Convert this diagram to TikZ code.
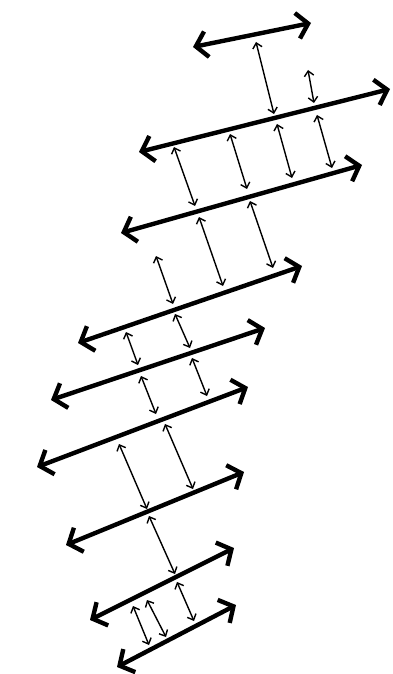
\documentclass[tikz,border=0pt]{standalone}
\usetikzlibrary{arrows.meta}
\begin{document}
\begin{tikzpicture}[x=1pt,y=-1pt,
  strand/.style={line width=4.4pt,{Straight Barb[length=11pt,width=26pt]}-{Straight Barb[length=11pt,width=26pt]}},
  link/.style={line width=1.4pt,{Straight Barb[length=5pt,width=9.5pt]}-{Straight Barb[length=5pt,width=9.5pt]}}]
\useasboundingbox (0,0) rectangle (392,674);
% thick strands
\coordinate (s1a) at (193,47);  \coordinate (s1b) at (311,23);
\coordinate (s2a) at (139,152); \coordinate (s2b) at (390,89);
\coordinate (s3a) at (121,233); \coordinate (s3b) at (362,165);
\coordinate (s4a) at (78,343);  \coordinate (s4b) at (302,266);
\coordinate (s5a) at (51,400);  \coordinate (s5b) at (265,328);
\coordinate (s6a) at (37,467);  \coordinate (s6b) at (248,387);
\coordinate (s7a) at (66,545);  \coordinate (s7b) at (244,472);
\coordinate (s8a) at (90,620);  \coordinate (s8b) at (234,548);
\coordinate (s9a) at (117,667); \coordinate (s9b) at (236,605);
\foreach \i in {1,...,9} {\draw[strand] (s\i a) -- (s\i b);}
% links 1-2
\draw[link] (256,42) -- (274,114);
\draw[link] (308,70) -- (314,103);
% links 2-3
\draw[link] (174,147) -- (195,206);
\draw[link] (230,134) -- (247,189);
\draw[link] (277,124) -- (292,178);
\draw[link] (317,115) -- (332,168);
% links 3-4
\draw[link] (156,256) -- (173,304);
\draw[link] (199,217) -- (223,286);
\draw[link] (250,201) -- (273,268);
% links 4-5
\draw[link] (126,332) -- (138,365);
\draw[link] (175,314) -- (190,348);
% links 5-6
\draw[link] (141,376) -- (156,414);
\draw[link] (192,358) -- (207,396);
% links 6-7
\draw[link] (119,444) -- (147,509);
\draw[link] (165,424) -- (193,489);
% links 7-8
\draw[link] (149,516) -- (175,574);
% links 8-9
\draw[link] (133,606) -- (149,645);
\draw[link] (147,600) -- (166,637);
\draw[link] (177,582) -- (194,621);
\end{tikzpicture}
\end{document}
